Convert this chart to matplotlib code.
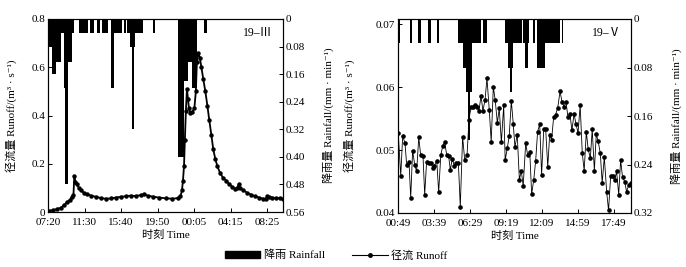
import numpy as np
import matplotlib
matplotlib.use("Agg")
import matplotlib.pyplot as plt
from matplotlib.patches import Patch
from matplotlib.lines import Line2D

plt.rcParams['font.family'] = ['Liberation Serif', 'Noto Sans CJK SC', 'DejaVu Sans']
plt.rcParams['font.size'] = 8
plt.rcParams['axes.linewidth'] = 0.8

# ---- event 19-III (minutes after 07:20) ----
runoff_t_3 = [7, 34, 61, 89, 109, 129, 150, 163, 174, 180, 187, 197, 211, 225, 245, 266,
              293, 327, 361, 395, 429, 463, 497, 531, 565, 599, 633, 654, 681, 715, 756,
              804, 851, 892, 906, 916, 923, 930, 936, 943, 950, 957, 964, 974, 987, 1001,
              1011, 1018, 1028, 1038, 1049, 1062, 1076, 1090, 1103, 1117, 1130, 1144, 1158,
              1178, 1199, 1219, 1239, 1260, 1280, 1294, 1304, 1314, 1335, 1362, 1389, 1416,
              1444, 1471, 1488, 1498, 1512, 1532, 1560, 1587, 1607]
runoff_v_3 = [0.005, 0.008, 0.012, 0.018, 0.028, 0.040, 0.050, 0.062, 0.070, 0.150, 0.125,
              0.115, 0.100, 0.090, 0.080, 0.075, 0.068, 0.063, 0.058, 0.055, 0.056, 0.060,
              0.063, 0.065, 0.068, 0.066, 0.070, 0.073, 0.068, 0.064, 0.060, 0.057, 0.055,
              0.058, 0.065, 0.090, 0.130, 0.190, 0.300, 0.420, 0.510, 0.470, 0.430, 0.410,
              0.415, 0.430, 0.500, 0.620, 0.660, 0.640, 0.600, 0.550, 0.500, 0.440, 0.380,
              0.320, 0.260, 0.220, 0.190, 0.160, 0.140, 0.130, 0.115, 0.105, 0.095, 0.100,
              0.115, 0.100, 0.090, 0.080, 0.072, 0.065, 0.060, 0.055, 0.052, 0.065, 0.062,
              0.060, 0.058, 0.057, 0.055]
rain_start_3 = [7, 7, 27, 54, 109, 109, 116, 211, 286, 334, 368, 429, 429, 518, 538, 558,
                572, 715, 892, 892, 933, 954, 988, 1069]
rain_end_3 = [177, 89, 54, 89, 163, 136, 136, 272, 313, 354, 409, 504, 449, 531, 647, 592,
              586, 729, 1021, 933, 954, 1021, 1021, 1090]
rain_v_3 = [0.042, 0.082, 0.16, 0.125, 0.125, 0.2, 0.48, 0.042, 0.042, 0.042, 0.042, 0.042,
            0.2, 0.042, 0.042, 0.082, 0.32, 0.042, 0.042, 0.40, 0.18, 0.125, 0.2, 0.042]
ticks_3 = ['07:20', '11:30', '15:40', '19:50', '00:05', '04:15', '08:25']

# ---- event 19-V (minutes after 00:49) ----
runoff_t_5 = [1, 13, 22, 33, 41, 52, 60, 69, 79, 88,
              98, 107, 118, 126, 135, 146, 156, 164, 171, 183,
              192, 202, 211, 220, 230, 239, 247, 256, 266, 275,
              285, 294, 305, 315, 326, 335, 345, 354, 363, 373,
              382, 392, 401, 411, 420, 431, 440, 450, 459, 469,
              478, 488, 499, 506, 516, 525, 535, 544, 552, 563,
              573, 582, 591, 603, 612, 622, 631, 641, 650, 659,
              669, 678, 688, 697, 707, 716, 725, 735, 744, 754,
              765, 774, 784, 793, 802, 812, 821, 831, 840, 850,
              860, 870, 879, 889, 898, 908, 917, 927, 936, 945,
              955, 964, 974, 985, 994, 1004, 1013, 1023, 1032, 1042,
              1051, 1060, 1070, 1079, 1089, 1098]
runoff_v_5 = [0.0527, 0.0459, 0.0522, 0.0511, 0.0476, 0.0481, 0.0424, 0.0499, 0.0476, 0.0466,
              0.0520, 0.0492, 0.0491, 0.0429, 0.0481, 0.0480, 0.0480, 0.0471, 0.0475, 0.0483,
              0.0433, 0.0492, 0.0506, 0.0513, 0.0492, 0.0491, 0.0468, 0.0486, 0.0475, 0.0479,
              0.0480, 0.0410, 0.0521, 0.0484, 0.0492, 0.0548, 0.0569, 0.0568, 0.0571, 0.0569,
              0.0562, 0.0586, 0.0562, 0.0580, 0.0614, 0.0563, 0.0513, 0.0600, 0.0579, 0.0543,
              0.0566, 0.0512, 0.0571, 0.0484, 0.0503, 0.0522, 0.0578, 0.0542, 0.0505, 0.0524,
              0.0453, 0.0467, 0.0443, 0.0511, 0.0492, 0.0497, 0.0430, 0.0453, 0.0483, 0.0529,
              0.0541, 0.0461, 0.0533, 0.0534, 0.0473, 0.0524, 0.0516, 0.0553, 0.0556, 0.0567,
              0.0593, 0.0577, 0.0569, 0.0577, 0.0553, 0.0557, 0.0531, 0.0557, 0.0542, 0.0527,
              0.0571, 0.0495, 0.0467, 0.0529, 0.0501, 0.0487, 0.0533, 0.0467, 0.0525, 0.0514,
              0.0495, 0.0448, 0.0489, 0.0434, 0.0404, 0.0459, 0.0458, 0.0452, 0.0466, 0.0429,
              0.0484, 0.0457, 0.0450, 0.0434, 0.0444, 0.0447]
rain_start_5 = [1, 57, 96, 143, 183, 285, 296, 305, 321, 332, 400, 505, 521, 529, 588, 599,
                635, 655, 655, 773]
rain_end_5 = [11, 67, 107, 154, 194, 296, 390, 348, 348, 341, 419, 584, 544, 540, 620, 612,
              646, 765, 694, 780]
rain_v_5 = [0.04, 0.04, 0.04, 0.04, 0.04, 0.04, 0.04, 0.08, 0.121, 0.2, 0.04, 0.04, 0.08,
            0.121, 0.04, 0.08, 0.04, 0.04, 0.08, 0.04]
ticks_5 = ['00:49', '03:39', '06:29', '09:19', '12:09', '14:59', '17:49']


def draw_panel(ax, t, q, rs, re, rv, tick_labels, tick_step, xmax, qlim, qticks, qfmt,
               rlim, rticks, tag, ms, lw):
    ax.plot(t, q, color='black', lw=lw, marker='o', ms=ms, zorder=3)
    ax.set_xlim(0, xmax)
    ax.set_ylim(*qlim)
    ax.set_yticks(qticks)
    ax.set_yticklabels(qfmt)
    ax.set_xticks(np.arange(len(tick_labels)) * tick_step)
    ax.set_xticklabels(tick_labels)
    ax.tick_params(axis='y', direction='in', length=3, width=0.7, pad=2)
    ax.tick_params(axis='x', direction='in', length=3, width=0.7, pad=4)
    ax.set_xlabel('时刻 Time', labelpad=2)
    ax.set_ylabel('径流量 Runoff/(m³ · s⁻¹)')

    ax2 = ax.twinx()
    rs = np.array(rs)
    re = np.array(re)
    ax2.bar(rs, rv, width=re - rs, align='edge', color='black', lw=0, zorder=2)
    ax2.set_ylim(rlim, 0)
    ax2.set_yticks(rticks)
    ax2.set_yticklabels(['0'] + ['%.2f' % v for v in rticks[1:]])
    ax2.tick_params(direction='in', length=3, width=0.7, pad=2)
    ax2.set_ylabel('降雨量 Rainfall/(mm · min⁻¹)')
    ax2.text(0.957, 0.93, tag, transform=ax.transAxes, ha='right', va='center', fontsize=8.5)
    ax.set_zorder(ax2.get_zorder() + 1)
    ax.patch.set_visible(False)
    return ax2


fig = plt.figure(figsize=(6.86, 2.67), dpi=100)
axL = fig.add_axes([48 / 686, 55 / 267, 235 / 686, 193 / 267])
axR = fig.add_axes([398 / 686, 54 / 267, 233 / 686, 194 / 267])

axL2 = draw_panel(axL, runoff_t_3, runoff_v_3, rain_start_3, rain_end_3, rain_v_3, ticks_3, 250,
                  1607, (0, 0.8), [0, 0.2, 0.4, 0.6, 0.8], ['0', '0.2', '0.4', '0.6', '0.8'],
                  0.56, [0, 0.08, 0.16, 0.24, 0.32, 0.40, 0.48, 0.56], '19–Ⅲ', 2.2, 1.3)
axR2 = draw_panel(axR, runoff_t_5, runoff_v_5, rain_start_5, rain_end_5, rain_v_5, ticks_5, 170,
                  1100, (0.04, 0.0708), [0.04, 0.05, 0.06, 0.07], ['0.04', '0.05', '0.06', '0.07'],
                  0.32, [0, 0.08, 0.16, 0.24, 0.32], '19–Ⅴ', 2.3, 0.6)

axL.yaxis.set_label_coords(-0.132, 0.5)
axL2.yaxis.set_label_coords(1.166, 0.5)
axR.yaxis.set_label_coords(-0.185, 0.5)
axR2.yaxis.set_label_coords(1.167, 0.5)

handles = [Patch(facecolor='black', edgecolor='black'),
           Line2D([], [], color='black', lw=0.8, marker='o', ms=2.5)]
fig.legend(handles, ['降雨 Rainfall', '径流 Runoff'], loc='center', bbox_to_anchor=(0.49, 0.045),
           ncol=2, frameon=False, handlelength=3.2, handleheight=0.6, columnspacing=2.5,
           handletextpad=0.3, fontsize=8)

fig.savefig('out.png', dpi=100)
